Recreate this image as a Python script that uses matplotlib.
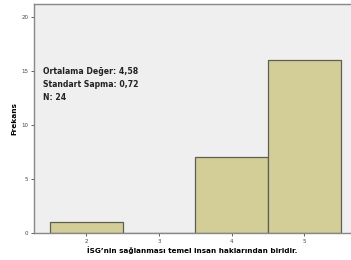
import matplotlib
matplotlib.use("Agg")
import matplotlib.pyplot as plt

plt.rcParams["font.family"] = ["DejaVu Sans"]

categories = [2, 3, 4, 5]
counts = [1, 0, 7, 16]
stats_lines = ["Ortalama Değer: 4,58", "Standart Sapma: 0,72", "N: 24"]
y_ticks = [0, 5, 10, 15, 20]

fig = plt.figure(figsize=(3.51, 2.60), dpi=100)
ax = fig.add_axes([34 / 351, 27 / 260, 317 / 351, 229 / 260])
ax.set_facecolor("#EFEFEF")
fig.patch.set_facecolor("white")

ax.bar(categories, counts, width=1.0, color="#D3CE97", edgecolor="#5E5E55", linewidth=0.9)

ax.set_xlim(1.28, 5.64)
ax.set_ylim(0, 21.2)
ax.set_xticks(categories)
ax.set_yticks(y_ticks)
ax.tick_params(labelsize=4, colors="#444444", length=2.5, width=0.6, pad=1.5)

for side in ["left", "bottom", "top"]:
    ax.spines[side].set_color("#888888")
    ax.spines[side].set_linewidth(1.0)
ax.spines["right"].set_visible(False)

ax.set_ylabel("Frekans", fontsize=5.3, fontweight="bold")
ax.yaxis.set_label_coords(-20 / 317, 0.5)
ax.yaxis.label.set_va("center")
ax.set_xlabel("İSG’nin sağlanması temel insan haklarından biridir.",
              fontsize=5.2, fontweight="bold", labelpad=2)

for i, line in enumerate(stats_lines):
    ax.text(0.027, 0.705 - i * 0.057, line, transform=ax.transAxes,
            fontsize=5.6, fontweight="bold", color="#222222", va="center")

fig.savefig("out.png", dpi=100)
